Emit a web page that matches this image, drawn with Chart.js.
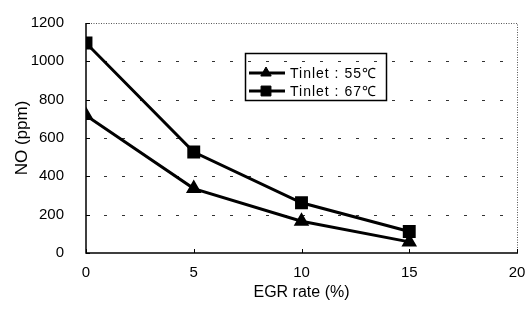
<!DOCTYPE html>
<html>
<head>
<meta charset="utf-8">
<script src="https://cdn.jsdelivr.net/npm/chart.js@4.4.1/dist/chart.umd.min.js"></script>
<style>
html,body{margin:0;padding:0;background:#fff;}
#wrap{width:529px;height:309px;position:relative;}
</style>
</head>
<body>
<div id="wrap"><canvas id="c" width="529" height="309"></canvas></div>
<script>
const egrRate = [0, 5, 10, 15];
const no55 = [718, 336, 166, 58];
const no67 = [1096, 527, 262, 112];
const seriesLabels = ['Tinlet : 55\u2103', 'Tinlet : 67\u2103'];
const xTicks = [0, 5, 10, 15, 20];
const yTicks = [0, 200, 400, 600, 800, 1000, 1200];
const axisTitles = { x: 'EGR rate (%)', y: 'NO (ppm)' };

const FONT = '"Liberation Sans", Arial, sans-serif';

const framePlugin = {
  id: 'frame',
  beforeDatasetsDraw(chart) {
    const { ctx, chartArea: a, scales: { x, y } } = chart;
    ctx.save();
    ctx.strokeStyle = '#333';
    ctx.lineWidth = 1;
    ctx.setLineDash([3, 15]);
    ctx.lineDashOffset = -18;
    yTicks.forEach(v => {
      if (v === 0 || v === yTicks[yTicks.length - 1]) return;
      const py = Math.round(y.getPixelForValue(v)) + 0.5;
      ctx.beginPath(); ctx.moveTo(a.left, py); ctx.lineTo(a.right, py); ctx.stroke();
    });
    ctx.strokeStyle = '#555';
    ctx.setLineDash([1, 1.5]);
    ctx.lineDashOffset = 0;
    ctx.beginPath();
    ctx.moveTo(a.left, a.top + 0.5); ctx.lineTo(a.right + 0.5, a.top + 0.5); ctx.lineTo(a.right + 0.5, a.bottom);
    ctx.stroke();
    ctx.setLineDash([]);
    ctx.strokeStyle = '#000';
    ctx.lineWidth = 1.5;
    ctx.beginPath();
    ctx.moveTo(a.left, a.top); ctx.lineTo(a.left, a.bottom); ctx.lineTo(a.right + 1, a.bottom);
    ctx.stroke();
    ctx.lineWidth = 1;
    yTicks.forEach(v => {
      const py = Math.round(y.getPixelForValue(v)) + 0.5;
      ctx.beginPath(); ctx.moveTo(a.left, py); ctx.lineTo(a.left + 4, py); ctx.stroke();
    });
    xTicks.forEach(v => {
      const px = Math.round(x.getPixelForValue(v)) + 0.5;
      ctx.beginPath(); ctx.moveTo(px, a.bottom); ctx.lineTo(px, a.bottom - 4); ctx.stroke();
    });
    ctx.restore();
  }
};

const legendPlugin = {
  id: 'boxLegend',
  afterDatasetsDraw(chart) {
    const { ctx } = chart;
    const bx = 245, by = 53, bw = 141, bh = 47;
    ctx.save();
    ctx.strokeStyle = '#000';
    ctx.lineWidth = 1.5;
    ctx.strokeRect(bx + 0.5, by + 0.5, bw, bh);
    const rows = [73, 91];
    chart.data.datasets.forEach((ds, i) => {
      const cy = rows[i];
      ctx.strokeStyle = ds.borderColor;
      ctx.lineWidth = ds.borderWidth;
      ctx.beginPath(); ctx.moveTo(249, cy); ctx.lineTo(285, cy); ctx.stroke();
      ctx.fillStyle = '#000';
      ctx.lineWidth = 1;
      Chart.helpers.drawPoint(ctx, {
        pointStyle: ds.pointStyle, radius: ds.pointRadius, borderWidth: 1, rotation: 0
      }, 266, cy);
      ctx.fillStyle = '#000';
      ctx.font = '14px ' + FONT;
      ctx.letterSpacing = '1px';
      ctx.textBaseline = 'middle';
      ctx.textAlign = 'left';
      ctx.fillText(ds.label, 290, cy + 1);
      ctx.letterSpacing = '0px';
    });
    ctx.restore();
  }
};

new Chart(document.getElementById('c'), {
  type: 'line',
  data: {
    datasets: [
      {
        label: seriesLabels[0],
        data: egrRate.map((v, i) => ({ x: v, y: no55[i] })),
        borderColor: '#000', backgroundColor: '#000', borderWidth: 3,
        pointStyle: 'triangle', pointRadius: 6, pointBackgroundColor: '#000', pointBorderColor: '#000'
      },
      {
        label: seriesLabels[1],
        data: egrRate.map((v, i) => ({ x: v, y: no67[i] })),
        borderColor: '#000', backgroundColor: '#000', borderWidth: 3,
        pointStyle: 'rect', pointRadius: 7, pointBackgroundColor: '#000', pointBorderColor: '#000'
      }
    ]
  },
  options: {
    responsive: false,
    animation: false,
    devicePixelRatio: 1,
    layout: { padding: { left: 0, right: 12, top: 14, bottom: 0 } },
    plugins: { legend: { display: false }, tooltip: { enabled: false } },
    scales: {
      x: {
        type: 'linear', min: 0, max: 20,
        afterBuildTicks: s => { s.ticks = xTicks.map(v => ({ value: v })); },
        afterFit: s => { s.height = 56; },
        grid: { display: false },
        border: { display: false },
        ticks: { color: '#000', font: { family: FONT, size: 15 }, padding: 3, maxRotation: 0, callback: v => String(v) },
        title: { display: true, text: axisTitles.x, color: '#000', font: { family: FONT, size: 16 }, padding: { top: 0, bottom: 7 } }
      },
      y: {
        type: 'linear', min: 0, max: 1200,
        afterBuildTicks: s => { s.ticks = yTicks.map(v => ({ value: v })); },
        afterFit: s => { s.width = 86; },
        grid: { display: false },
        border: { display: false },
        ticks: { color: '#000', font: { family: FONT, size: 15 }, padding: 14, callback: v => String(v) },
        title: { display: true, text: axisTitles.y, color: '#000', font: { family: FONT, size: 17 }, padding: { top: 12, bottom: 0 } }
      }
    }
  },
  plugins: [framePlugin, legendPlugin]
});
</script>
</body>
</html>
